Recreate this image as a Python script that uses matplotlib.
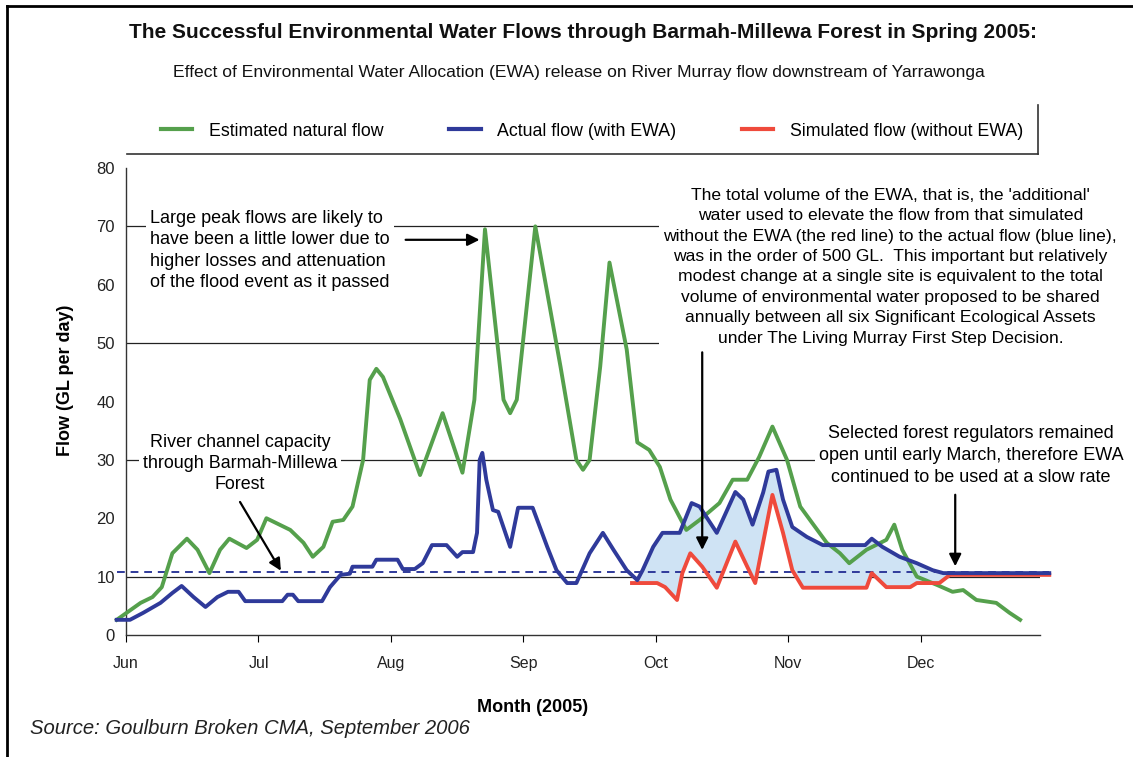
import matplotlib.pyplot as plt
from matplotlib.lines import Line2D

plt.rcParams['font.family'] = ['Liberation Sans', 'DejaVu Sans']

# x values are months since 1 June 2005 (0 = Jun, 1 = Jul, ...)
months = ["Jun", "Jul", "Aug", "Sep", "Oct", "Nov", "Dec"]

natural_t = [-0.07, 0.11, 0.20, 0.27, 0.35, 0.46, 0.54, 0.63, 0.71, 0.78, 0.91, 0.99,
             1.06, 1.24, 1.34, 1.41, 1.49, 1.56, 1.64, 1.71, 1.79, 1.84, 1.89, 1.94,
             2.07, 2.22, 2.39, 2.54, 2.63, 2.71, 2.85, 2.90, 2.95, 3.09, 3.28, 3.40,
             3.45, 3.50, 3.58, 3.65, 3.78, 3.86, 3.95, 4.03, 4.11, 4.23, 4.33, 4.48,
             4.58, 4.69, 4.78, 4.88, 4.99, 5.09, 5.18, 5.29, 5.39, 5.46, 5.59, 5.74,
             5.80, 5.86, 5.97, 6.12, 6.24, 6.32, 6.42, 6.57, 6.67, 6.75]
natural_flow = [2.6, 5.5, 6.5, 8.2, 14.0, 16.5, 14.6, 10.6, 14.6, 16.5, 14.9, 16.3,
                20.0, 18.0, 15.8, 13.4, 15.1, 19.4, 19.7, 22.0, 30.0, 43.7, 45.6, 44.2,
                37.0, 27.4, 38.0, 27.8, 40.3, 69.5, 40.3, 38.0, 40.3, 70.0, 46.0, 30.0,
                28.3, 30.0, 46.0, 63.8, 48.9, 33.0, 31.7, 28.8, 23.2, 18.0, 19.7, 22.6,
                26.6, 26.6, 30.5, 35.7, 30.0, 22.0, 19.2, 15.8, 14.0, 12.3, 14.6, 16.3,
                18.9, 14.6, 10.0, 8.6, 7.4, 7.7, 6.0, 5.5, 3.8, 2.6]

actual_t = [-0.07, 0.03, 0.13, 0.26, 0.35, 0.42, 0.51, 0.60, 0.69, 0.77, 0.85, 0.90,
            1.18, 1.22, 1.26, 1.30, 1.48, 1.54, 1.62, 1.69, 1.71, 1.86, 1.89, 2.05,
            2.09, 2.18, 2.24, 2.31, 2.42, 2.50, 2.54, 2.62, 2.65, 2.67, 2.69, 2.72,
            2.77, 2.81, 2.90, 2.96, 3.07, 3.18, 3.25, 3.33, 3.40, 3.50, 3.60, 3.68,
            3.78, 3.86, 3.90, 3.98, 4.05, 4.18, 4.27, 4.33, 4.46, 4.60, 4.66, 4.73,
            4.81, 4.85, 4.91, 4.96, 5.03, 5.14, 5.26, 5.58, 5.63, 5.71, 5.84, 5.97,
            6.09, 6.17, 6.97]
actual_flow = [2.6, 2.6, 3.8, 5.5, 7.2, 8.4, 6.5, 4.8, 6.5, 7.4, 7.4, 5.8,
               5.8, 6.9, 6.9, 5.8, 5.8, 8.2, 10.3, 10.5, 11.7, 11.7, 12.9, 12.9,
               11.3, 11.3, 12.3, 15.4, 15.4, 13.4, 14.2, 14.2, 17.5, 30.0, 31.2, 26.6,
               21.4, 21.1, 15.1, 21.8, 21.8, 15.1, 11.1, 8.9, 8.9, 14.0, 17.5, 14.6,
               11.1, 9.4, 11.1, 15.1, 17.5, 17.5, 22.6, 22.0, 17.5, 24.5, 23.2, 18.9,
               24.4, 28.0, 28.3, 23.2, 18.5, 16.8, 15.4, 15.4, 16.5, 15.1, 13.4, 12.3,
               11.1, 10.6, 10.6]

simulated_t = [3.82, 4.01, 4.07, 4.16, 4.20, 4.26, 4.35, 4.46, 4.60, 4.69, 4.75, 4.88,
               4.96, 5.03, 5.11, 5.59, 5.63, 5.74, 5.92, 5.97, 6.14, 6.22, 6.97]
simulated_flow = [8.9, 8.9, 8.2, 6.0, 10.6, 14.0, 11.7, 8.1, 16.0, 11.7, 8.9, 24.0,
                  17.5, 11.1, 8.1, 8.1, 10.6, 8.2, 8.2, 8.9, 8.9, 10.3, 10.3]

channel_capacity = 10.8
grid_levels = [10, 30, 50, 70]

green = '#55a04c'
blue = '#2f3a9a'
red = '#ef4a3c'
fill_blue = '#cfe3f4'

fig = plt.figure(figsize=(11.33, 7.57), dpi=100)
ax = fig.add_axes([126 / 1133, 1 - 635 / 757, 914 / 1133, 467 / 757])

# horizontal reference lines (partly hidden behind the text boxes)
for lvl in grid_levels:
    ax.axhline(lvl, color='#222222', lw=0.9, zorder=1)

# EWA volume between actual and simulated flow
fill_x = simulated_t + [t for t in actual_t[::-1] if 3.82 < t < 6.22]
fill_y = simulated_flow + [f for t, f in zip(actual_t[::-1], actual_flow[::-1]) if 3.82 < t < 6.22]
ax.fill(fill_x, fill_y, color=fill_blue, lw=0, zorder=2)

ax.plot([-0.07, 6.97], [channel_capacity] * 2, color=blue, lw=1.4, ls=(0, (4, 3)),
        zorder=3, clip_on=False)

l_nat, = ax.plot(natural_t, natural_flow, color=green, lw=2.8, zorder=4,
                 clip_on=False, solid_joinstyle='round', label='Estimated natural flow')
l_sim, = ax.plot(simulated_t, simulated_flow, color=red, lw=2.8, zorder=5,
                 clip_on=False, solid_joinstyle='round', label='Simulated flow (without EWA)')
l_act, = ax.plot(actual_t, actual_flow, color=blue, lw=2.8, zorder=6,
                 clip_on=False, solid_joinstyle='round', label='Actual flow (with EWA)')

ax.set_xlim(0, 6.9)
ax.set_ylim(0, 80)
ax.set_xticks(range(7))
ax.set_xticklabels(months)
ax.set_yticks(range(0, 81, 10))
ax.tick_params(axis='y', length=0, pad=8, labelsize=12, labelcolor='#222222')
ax.tick_params(axis='x', length=5, width=0.8, pad=10, labelsize=11.5, labelcolor='#222222')
for s in ['top', 'right']:
    ax.spines[s].set_visible(False)
for s in ['left', 'bottom']:
    ax.spines[s].set_linewidth(1.0)
    ax.spines[s].set_color('#333333')

ax.set_ylabel('Flow (GL per day)', fontsize=13, fontweight='bold')
ax.yaxis.set_label_coords(-0.057, 0.545)
ax.set_xlabel('Month (2005)', fontsize=13, fontweight='bold')
ax.xaxis.set_label_coords(0.445, -0.138)

box = dict(facecolor='white', edgecolor='none', pad=3)
ax.text(0.18, 65.9, "Large peak flows are likely to\nhave been a little lower due to\n"
        "higher losses and attenuation\nof the flood event as it passed",
        fontsize=13, ha='left', va='center', linespacing=1.34, bbox=box, zorder=2.5)
ax.text(0.86, 29.4, "River channel capacity\nthrough Barmah-Millewa\nForest",
        fontsize=12.9, ha='center', va='center', linespacing=1.32, bbox=box, zorder=2.5)
ax.text(5.77, 63.1, "The total volume of the EWA, that is, the 'additional'\n"
        "water used to elevate the flow from that simulated\n"
        "without the EWA (the red line) to the actual flow (blue line),\n"
        "was in the order of 500 GL.  This important but relatively\n"
        "modest change at a single site is equivalent to the total\n"
        "volume of environmental water proposed to be shared\n"
        "annually between all six Significant Ecological Assets\n"
        "under The Living Murray First Step Decision.",
        fontsize=12.6, ha='center', va='center', linespacing=1.45, bbox=box,
        zorder=2.5, clip_on=False)
ax.text(6.38, 30.8, "Selected forest regulators remained\nopen until early March, therefore EWA\n"
        "continued to be used at a slow rate",
        fontsize=13, ha='center', va='center', linespacing=1.37, bbox=box,
        zorder=2.5, clip_on=False)

arrow = dict(arrowstyle='-|>', color='black', lw=1.6, mutation_scale=18)
ax.annotate('', xy=(2.69, 67.7), xytext=(2.09, 67.7), arrowprops=arrow, zorder=8)
ax.annotate('', xy=(1.18, 10.6), xytext=(0.85, 23.2), arrowprops=arrow, zorder=8)
ax.annotate('', xy=(4.35, 14.1), xytext=(4.35, 48.9), arrowprops=arrow, zorder=8)
ax.annotate('', xy=(6.26, 11.3), xytext=(6.26, 24.5), arrowprops=arrow, zorder=8)

# titles
fig.text(0.515, 1 - 33 / 757, "The Successful Environmental Water Flows through "
         "Barmah-Millewa Forest in Spring 2005:", fontsize=15, fontweight='bold',
         ha='center', va='center', color='#111111')
fig.text(0.5106, 1 - 73 / 757, "Effect of Environmental Water Allocation (EWA) release on "
         "River Murray flow downstream of Yarrawonga", fontsize=12.6,
         ha='center', va='center', color='#111111')

leg = fig.legend(handles=[l_nat, l_act, l_sim], loc='center left',
                 bbox_to_anchor=(145 / 1133, 1 - 131 / 757), ncol=3, frameon=False,
                 fontsize=12.8, handlelength=1.75, handletextpad=0.95, columnspacing=3.7)
for h in leg.legend_handles:
    h.set_linewidth(3)

# legend box edges and outer frame
fig.add_artist(Line2D([127 / 1133, 1038 / 1133], [1 - 154 / 757] * 2, color='#333333', lw=1.2))
fig.add_artist(Line2D([1038 / 1133] * 2, [1 - 105 / 757, 1 - 154 / 757], color='#333333', lw=1.2))
fig.add_artist(Line2D([7 / 1133, 1.0], [1 - 6 / 757] * 2, color='black', lw=2))
fig.add_artist(Line2D([7 / 1133] * 2, [0, 1 - 6 / 757], color='black', lw=2))

fig.text(30 / 1133, 1 - 729 / 757, "Source: Goulburn Broken CMA, September 2006",
         fontsize=14.6, style='italic', ha='left', va='center', color='#222222')

fig.savefig('out.png', dpi=100)
